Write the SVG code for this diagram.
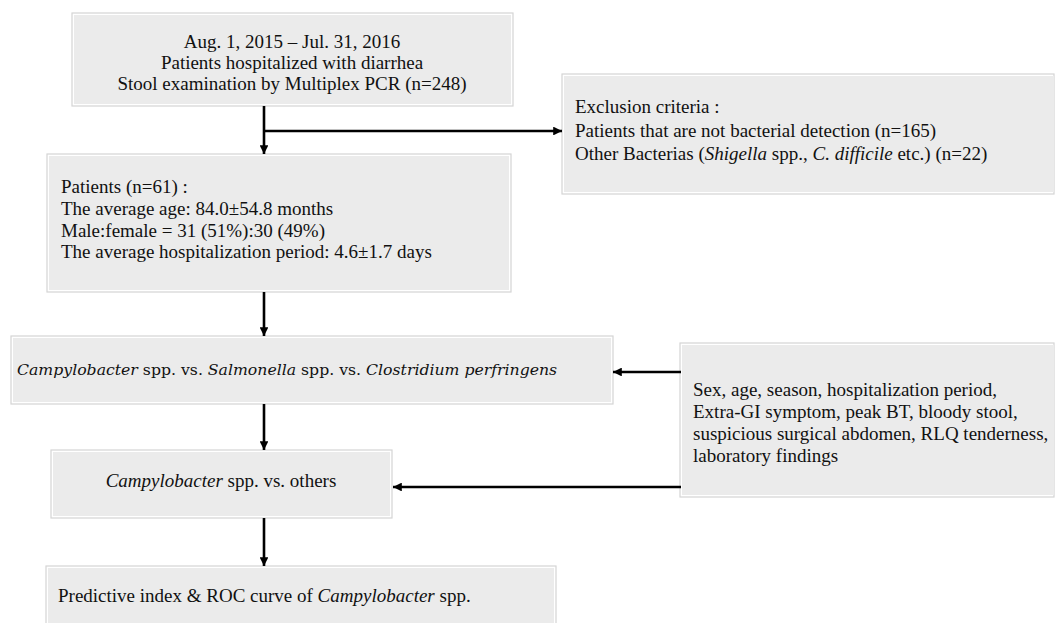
<svg xmlns="http://www.w3.org/2000/svg" width="1055" height="623" viewBox="0 0 1055 623">
<style>
.fill{fill:#ebebeb;stroke:none}
.frame{fill:none;stroke:#d4d4d4;stroke-width:1.2}
.t{font-family:"Liberation Serif","Times New Roman",serif;font-size:19px;fill:#111}
.c{text-anchor:middle}
.i{font-style:italic}
.ln{stroke:#000;stroke-width:2.6;fill:none}
</style>
<defs>
<marker id="ah" viewBox="0 0 10 10" refX="10" refY="5" markerWidth="3.4" markerHeight="3.4" orient="auto" markerUnits="strokeWidth">
<path d="M0,0 L10,5 L0,10 z" fill="#000"/>
</marker>
</defs>
<g id="n1">
<rect class="frame" x="72" y="13" width="441" height="93"/>
<rect class="fill" x="74" y="15" width="437" height="89"/>
<text class="t c" x="292" y="48">Aug. 1, 2015 – Jul. 31, 2016</text>
<text class="t c" x="292" y="69">Patients hospitalized with diarrhea</text>
<text class="t c" x="292" y="90">Stool examination by Multiplex PCR (n=248)</text>
</g>
<g id="n2">
<rect class="frame" x="562" y="74" width="492" height="120"/>
<rect class="fill" x="564" y="76" width="490" height="116"/>
<text class="t" x="575" y="113">Exclusion criteria :</text>
<text class="t" x="575" y="137">Patients that are not bacterial  detection (n=165)</text>
<text class="t" x="575" y="160">Other Bacterias  (<tspan class="i">Shigella</tspan> spp., <tspan class="i">C. difficile</tspan> etc.) (n=22)</text>
</g>
<g id="n3">
<rect class="frame" x="47" y="154" width="464" height="138"/>
<rect class="fill" x="49" y="156" width="460" height="134"/>
<text class="t" x="61" y="193">Patients (n=61) :</text>
<text class="t" x="61" y="215">The average  age: 84.0±54.8  months</text>
<text class="t" x="61" y="237">Male:female = 31 (51%):30  (49%)</text>
<text class="t" x="61" y="258">The average  hospitalization  period: 4.6±1.7 days</text>
</g>
<g id="n4">
<rect class="frame" x="11" y="336" width="602" height="68"/>
<rect class="fill" x="13" y="338" width="598" height="64"/>
<text x="17" y="375" style="font-family:'DejaVu Serif','Liberation Serif',serif;font-size:15.7px;fill:#111"><tspan class="i">Campylobacter</tspan> spp. vs. <tspan class="i">Salmonella</tspan> spp. vs. <tspan class="i">Clostridium perfringens</tspan></text>
</g>
<g id="n5">
<rect class="frame" x="680" y="343" width="374" height="154"/>
<rect class="fill" x="682" y="345" width="372" height="150"/>
<text class="t" x="693" y="396">Sex, age, season, hospitalization period,</text>
<text class="t" x="693" y="418">Extra-GI symptom, peak BT, bloody stool,</text>
<text class="t" x="693" y="440">suspicious surgical abdomen, RLQ tenderness,</text>
<text class="t" x="693" y="462">laboratory findings</text>
</g>
<g id="n6">
<rect class="frame" x="51" y="450" width="341" height="68"/>
<rect class="fill" x="53" y="452" width="337" height="64"/>
<text class="t c" x="221" y="487"><tspan class="i">Campylobacter</tspan> spp. vs. others</text>
</g>
<g id="n7">
<rect class="frame" x="46" y="566" width="510" height="60"/>
<rect class="fill" x="48" y="568" width="506" height="56"/>
<text class="t" x="58" y="602">Predictive  index &amp; ROC curve of <tspan class="i">Campylobacter</tspan> spp.</text>
</g>
<g id="connectors">
<line class="ln" x1="264" y1="106" x2="264" y2="154" marker-end="url(#ah)"/>
<line class="ln" x1="264" y1="131" x2="562" y2="131" marker-end="url(#ah)"/>
<line class="ln" x1="264" y1="292" x2="264" y2="336" marker-end="url(#ah)"/>
<line class="ln" x1="681" y1="372" x2="613" y2="372" marker-end="url(#ah)"/>
<line class="ln" x1="264" y1="404" x2="264" y2="450" marker-end="url(#ah)"/>
<line class="ln" x1="681" y1="487" x2="393" y2="487" marker-end="url(#ah)"/>
<line class="ln" x1="264" y1="518" x2="264" y2="566" marker-end="url(#ah)"/>
</g>
</svg>
